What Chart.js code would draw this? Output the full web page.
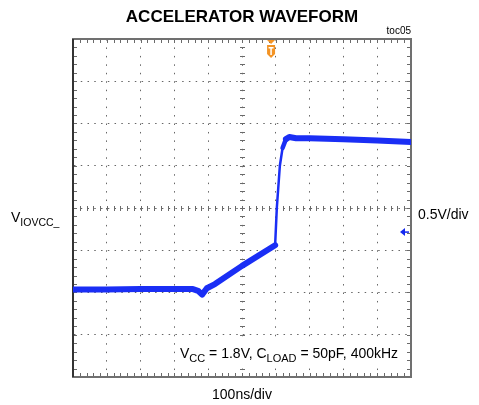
<!DOCTYPE html>
<html>
<head>
<meta charset="utf-8">
<script src="https://cdn.jsdelivr.net/npm/chart.js@4"></script>
<style>
html,body{margin:0;padding:0;background:#fff;}
canvas{display:block;}
</style>
</head>
<body>
<canvas id="c" width="479" height="405"></canvas>
<script>
// Data (in scope divisions): x = time divisions (100ns/div), y = volt divisions (0.5V/div)
const timeDiv = [0, 1, 2, 3, 3.55, 3.7, 3.82, 3.96, 4.2, 5, 5.98, 6.03, 6.12, 6.2, 6.3, 6.4, 6.6, 7, 8, 9, 10];
const voltDiv = [-1.93, -1.93, -1.92, -1.92, -1.92, -1.96, -2.05, -1.90, -1.80, -1.37, -0.88, 0.0, 1.0, 1.42, 1.63, 1.68, 1.65, 1.65, 1.63, 1.60, 1.56];
const xDivisions = [0, 10];
const yDivisions = [-4, 4];
const triggerPos = 5.86;
const groundLevel = -0.57;
const titleText = 'ACCELERATOR WAVEFORM';
const tocText = 'toc05';
const xLabel = '100ns/div';
const yScaleLabel = '0.5V/div';

const points = timeDiv.map((x, i) => ({x: x, y: voltDiv[i]}));
const FONT = '"Liberation Sans", Arial, sans-serif';

const overlay = {
  id: 'overlay',
  beforeDatasetsDraw(chart) {
    const ctx = chart.ctx, a = chart.chartArea;
    const xs = chart.scales.x, ys = chart.scales.y;
    ctx.save();
    ctx.strokeStyle = '#6a6a6a';
    ctx.lineWidth = 1;
    for (let v = xDivisions[0]; v <= xDivisions[1] + 1e-9; v += 0.2) {
      const px = Math.round(xs.getPixelForValue(v)) + 0.5;
      const y0 = Math.round(ys.getPixelForValue(0));
      ctx.beginPath();
      ctx.moveTo(px, a.top); ctx.lineTo(px, a.top + 4);
      ctx.moveTo(px, a.bottom); ctx.lineTo(px, a.bottom - 4);
      ctx.moveTo(px, y0 - 2); ctx.lineTo(px, y0 + 3);
      ctx.stroke();
    }
    for (let v = yDivisions[0]; v <= yDivisions[1] + 1e-9; v += 0.2) {
      const py = Math.round(ys.getPixelForValue(v)) + 0.5;
      const x0 = Math.round(xs.getPixelForValue(5));
      ctx.beginPath();
      ctx.moveTo(a.left, py); ctx.lineTo(a.left + 4, py);
      ctx.moveTo(a.right, py); ctx.lineTo(a.right - 4, py);
      ctx.moveTo(x0 - 2, py); ctx.lineTo(x0 + 3, py);
      ctx.stroke();
    }
    // plot frame
    ctx.strokeStyle = '#707070';
    ctx.lineWidth = 2;
    ctx.strokeRect(a.left, a.top, a.right - a.left, a.bottom - a.top);
    ctx.strokeStyle = '#333';
    ctx.beginPath();
    ctx.moveTo(a.left, a.top); ctx.lineTo(a.left, a.bottom);
    ctx.stroke();
    ctx.fillStyle = '#fff';
    ctx.fillRect(176, 338, 230, 28);
    ctx.restore();
  },
  afterDraw(chart) {
    const ctx = chart.ctx, a = chart.chartArea;
    const xs = chart.scales.x, ys = chart.scales.y;
    ctx.save();
    ctx.fillStyle = '#000';
    ctx.textBaseline = 'alphabetic';
    ctx.font = 'bold 17px ' + FONT;
    ctx.textAlign = 'center';
    ctx.fillText(titleText, 242, 22);
    ctx.font = '10px ' + FONT;
    ctx.textAlign = 'right';
    ctx.fillText(tocText, 411, 34);
    ctx.font = '14px ' + FONT;
    ctx.textAlign = 'center';
    ctx.fillText(xLabel, 242, 399);
    ctx.textAlign = 'left';
    ctx.fillText(yScaleLabel, 418, 219);
    ctx.font = '14px ' + FONT;
    ctx.fillText('V', 11, 222);
    let w = ctx.measureText('V').width;
    ctx.font = '10.5px ' + FONT;
    ctx.fillText('IOVCC_', 11 + w, 226);
    let x = 180;
    const base = 358;
    const parts = [['V', 14, 0], ['CC', 11, 4], [' = 1.8V, C', 14, 0], ['LOAD', 11, 4], [' = 50pF, 400kHz', 14, 0]];
    for (const [t, s, dy] of parts) {
      ctx.font = s + 'px ' + FONT;
      ctx.fillText(t, x, base + dy);
      x += ctx.measureText(t).width;
    }
    // trigger marker
    const tx = xs.getPixelForValue(triggerPos);
    ctx.fillStyle = '#f39324';
    ctx.beginPath();
    ctx.moveTo(tx - 4, a.top + 1); ctx.lineTo(tx + 4, a.top + 1); ctx.lineTo(tx, a.top + 5); ctx.closePath();
    ctx.fill();
    ctx.beginPath();
    ctx.moveTo(tx - 4, a.top + 6);
    ctx.lineTo(tx + 4, a.top + 6);
    ctx.lineTo(tx + 4, a.top + 15);
    ctx.lineTo(tx, a.top + 19);
    ctx.lineTo(tx - 4, a.top + 15);
    ctx.closePath();
    ctx.fill();
    ctx.fillStyle = '#fff';
    ctx.fillRect(tx - 2.5, a.top + 8, 5, 1.5);
    ctx.fillRect(tx - 0.75, a.top + 8, 1.5, 8);
    // ground marker
    const gy = ys.getPixelForValue(groundLevel);
    const gx = a.right - 7;
    ctx.fillStyle = '#1428f0';
    ctx.strokeStyle = '#1428f0';
    ctx.beginPath();
    ctx.moveTo(gx - 4, gy); ctx.lineTo(gx + 1, gy - 4); ctx.lineTo(gx + 1, gy + 4); ctx.closePath();
    ctx.fill();
    ctx.lineWidth = 1.5;
    ctx.beginPath();
    ctx.moveTo(gx, gy); ctx.lineTo(gx + 5, gy);
    ctx.stroke();
    ctx.restore();
  }
};

new Chart(document.getElementById('c'), {
  type: 'line',
  data: {
    datasets: [{
      data: points,
      borderColor: '#1a2ef5',
      borderWidth: 6,
      pointRadius: 0,
      tension: 0,
      borderJoinStyle: 'round',
      borderCapStyle: 'round',
      segment: {
        borderWidth: c => {
          const s = Math.abs((c.p1.parsed.y - c.p0.parsed.y) / (c.p1.parsed.x - c.p0.parsed.x));
          return s > 4 ? 2.5 : (s > 1.5 ? 4.5 : 6);
        }
      }
    }]
  },
  options: {
    responsive: false,
    animation: false,
    devicePixelRatio: 1,
    layout: {padding: {left: 73, right: 68, top: 39, bottom: 28}},
    plugins: {legend: {display: false}, tooltip: {enabled: false}, title: {display: false}},
    scales: {
      x: {
        type: 'linear', min: xDivisions[0], max: xDivisions[1],
        ticks: {display: false, stepSize: 1},
        grid: {color: '#666', lineWidth: 1, drawTicks: false},
        border: {display: true, color: '#555', width: 2, dash: [1.5, 6.95]}
      },
      y: {
        type: 'linear', min: yDivisions[0], max: yDivisions[1],
        ticks: {display: false, stepSize: 1},
        grid: {color: '#666', lineWidth: 1, drawTicks: false},
        border: {display: true, color: '#555', width: 2, dash: [1.5, 5.26]}
      }
    }
  },
  plugins: [overlay]
});
</script>
</body>
</html>
